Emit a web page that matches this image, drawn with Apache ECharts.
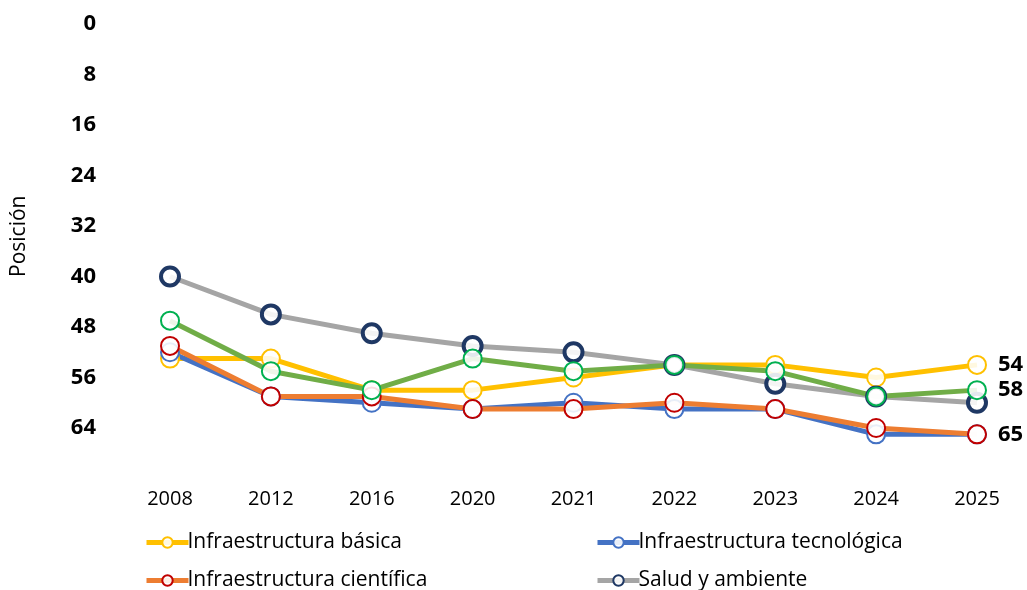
<!DOCTYPE html>
<html>
<head>
<meta charset="utf-8">
<script src="https://cdn.jsdelivr.net/npm/echarts@6/dist/echarts.min.js"></script>
<style>
  html, body { margin: 0; padding: 0; background: #fff; }
  #chart { width: 1027px; height: 590px; }
</style>
</head>
<body>
<div id="chart"></div>
<script>
(function () {
  'use strict';

  var years = ['2008', '2012', '2016', '2020', '2021', '2022', '2023', '2024', '2025'];
  var yTicks = [0, 8, 16, 24, 32, 40, 48, 56, 64, 72];

  var basica = [53, 53, 58, 58, 56, 54, 54, 56, 54];
  var tecnologica = [52, 59, 60, 61, 60, 61, 61, 65, 65];
  var cientifica = [51, 59, 59, 61, 61, 60, 61, 64, 65];
  var salud = [40, 46, 49, 51, 52, 54, 57, 59, 60];
  var educacion = [47, 55, 58, 53, 55, 54, 55, 59, 58];

  var font = '"Open Sans", "Noto Sans", sans-serif';

  // line colour, marker border, marker border width, show end label
  function makeSeries(name, values, lineColor, markColor, markWidth, endLabel) {
    return {
      name: name,
      type: 'line',
      data: values,
      symbol: 'circle',
      symbolSize: 18,
      showAllSymbol: true,
      lineStyle: { color: lineColor, width: 5 },
      itemStyle: { color: 'rgba(255,255,255,0.88)', borderColor: markColor, borderWidth: markWidth },
      emphasis: { disabled: true },
      label: {
        show: endLabel,
        position: 'right',
        distance: 11,
        fontFamily: font,
        fontSize: 22,
        fontWeight: 'bold',
        color: '#000',
        formatter: function (p) {
          return p.dataIndex === values.length - 1 ? p.value : '';
        }
      }
    };
  }

  function legendAt(name, left, top) {
    return {
      data: [name],
      left: left,
      top: top,
      itemWidth: 42,
      itemHeight: 13,
      itemGap: 0,
      lineStyle: { width: 5 },
      textStyle: { fontFamily: font, fontSize: 21, color: '#000', padding: [0, 0, 0, -6] }
    };
  }

  var chart = echarts.init(document.getElementById('chart'));

  chart.setOption({
    animation: false,
    backgroundColor: '#fff',
    grid: { left: 170, right: 50, top: 24, bottom: 111.5 },
    legend: [
      legendAt('Infraestructura básica', 139, 527),
      legendAt('Infraestructura tecnológica', 590, 527),
      legendAt('Infraestructura científica', 139, 565),
      legendAt('Salud y ambiente', 590, 565)
    ],
    xAxis: {
      type: 'category',
      data: years,
      boundaryGap: false,
      axisLine: { show: false },
      axisTick: { show: false },
      axisLabel: { fontFamily: font, fontSize: 20, color: '#000', margin: 11 }
    },
    yAxis: {
      type: 'value',
      inverse: true,
      min: yTicks[0],
      max: yTicks[yTicks.length - 1],
      interval: 8,
      name: 'Posición',
      nameLocation: 'middle',
      nameGap: 140,
      nameRotate: 90,
      nameTextStyle: { fontFamily: font, fontSize: 21, color: '#000', padding: [0, 0, 0, 30] },
      splitLine: { show: false },
      axisLine: { show: false },
      axisTick: { show: false },
      axisLabel: {
        fontFamily: font, fontSize: 22, fontWeight: 'bold', color: '#000', margin: 74,
        showMaxLabel: false
      }
    },
    series: [
      makeSeries('Infraestructura básica', basica, '#FFC000', '#FFC000', 2, true),
      makeSeries('Infraestructura tecnológica', tecnologica, '#4472C4', '#4472C4', 2, false),
      makeSeries('Infraestructura científica', cientifica, '#ED7D31', '#C00000', 2, true),
      makeSeries('Salud y ambiente', salud, '#A5A5A5', '#1F3864', 4, false),
      makeSeries('Educación', educacion, '#70AD47', '#00B050', 2, true)
    ]
  });
})();
</script>
</body>
</html>
